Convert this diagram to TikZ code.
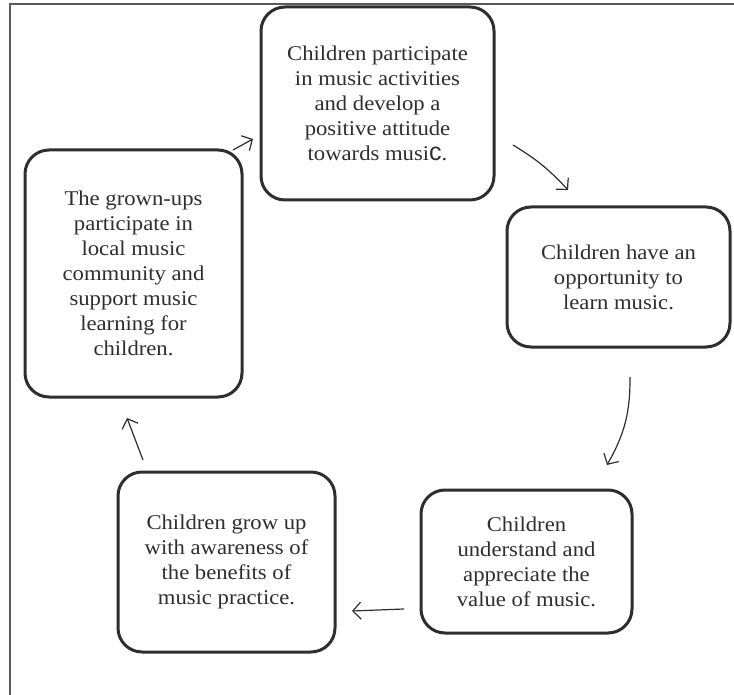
\documentclass[tikz,border=0pt]{standalone}
\usepackage{fontspec}
\setmainfont[FakeStretch=1.08]{Liberation Serif}
\setsansfont{Liberation Sans}
\usetikzlibrary{arrows.meta}
\definecolor{ink}{HTML}{2E2E2E}
\begin{document}
\begin{tikzpicture}[x=1pt,y=-1pt,
  stepbox/.style={draw=ink, line width=3pt, rounded corners=24pt, text=ink,
    align=center, inner sep=0pt, font=\fontsize{21}{25}\selectfont},
  flow/.style={draw=ink, line width=1.2pt, -{Straight Barb[length=8pt,width=17pt]}}]
\useasboundingbox (0,0) rectangle (734,695);
\draw[line width=2.5pt, draw=black!65] (10,695) coordinate (fl) -- (10,4) coordinate (fc) -- (734,4) coordinate (fr);
\node[stepbox, minimum width=233pt, minimum height=193pt] (A) at (377.5,103.5)
  {Children participate\\in music activities\\and develop a\\positive attitude\\towards musi{\sffamily\fontsize{25}{25}\selectfont c}.};
\node[stepbox, minimum width=223pt, minimum height=140pt] (B) at (618.5,277)
  {Children have an\\opportunity to\\learn music.};
\node[stepbox, minimum width=211pt, minimum height=143pt] (C) at (526.5,561.5)
  {Children\\understand and\\appreciate the\\value of music.};
\node[stepbox, minimum width=217pt, minimum height=180pt] (D) at (226.5,562)
  {Children grow up\\with awareness of\\the benefits of\\music practice.};
\node[stepbox, minimum width=217pt, minimum height=247pt] (E) at (133.5,273.5)
  {The grown-ups\\participate in\\local music\\community and\\support music\\learning for\\children.};
\coordinate (ea1) at (233,150); \coordinate (ea2) at (253,139);
\coordinate (ab1) at (513,145); \coordinate (ab2) at (568,190);
\coordinate (bc1) at (630,377); \coordinate (bc2) at (607,465);
\coordinate (cd1) at (404,609); \coordinate (cd2) at (352,611);
\coordinate (de1) at (143,460); \coordinate (de2) at (127,418);
\draw[flow] (ea1) -- (ea2);
\draw[flow] (ab1) to[bend left=8] (ab2);
\draw[flow] (bc1) to[bend left=15] (bc2);
\draw[flow] (cd1) -- (cd2);
\draw[flow] (de1) -- (de2);
\end{tikzpicture}
\end{document}
